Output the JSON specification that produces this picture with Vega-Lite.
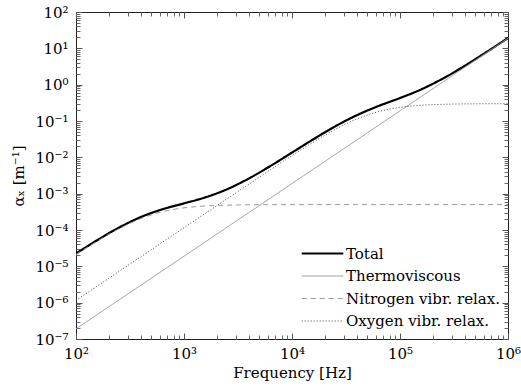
{
  "$schema": "https://vega.github.io/schema/vega-lite/v6.json",
  "width": 432,
  "height": 327,
  "autosize": "none",
  "padding": {"left": 76, "top": 12, "right": 13, "bottom": 48},
  "background": "white",
  "data": {
    "values": [
      {"f": 100, "s": "Total", "a": 2.244e-5},
      {"f": 158.5, "s": "Total", "a": 5.318e-5},
      {"f": 251.2, "s": "Total", "a": 1.172e-4},
      {"f": 398.1, "s": "Total", "a": 2.269e-4},
      {"f": 631, "s": "Total", "a": 3.715e-4},
      {"f": 1000, "s": "Total", "a": 5.413e-4},
      {"f": 1585, "s": "Total", "a": 7.958e-4},
      {"f": 2512, "s": "Total", "a": 1.329e-3},
      {"f": 3981, "s": "Total", "a": 2.612e-3},
      {"f": 6310, "s": "Total", "a": 5.774e-3},
      {"f": 10000, "s": "Total", "a": 1.351e-2},
      {"f": 15849, "s": "Total", "a": 3.170e-2},
      {"f": 25119, "s": "Total", "a": 7.11e-2},
      {"f": 39811, "s": "Total", "a": 0.1442},
      {"f": 63096, "s": "Total", "a": 0.2577},
      {"f": 100000, "s": "Total", "a": 0.4285},
      {"f": 158489, "s": "Total", "a": 0.7494},
      {"f": 251189, "s": "Total", "a": 1.4886},
      {"f": 398107, "s": "Total", "a": 3.306},
      {"f": 630957, "s": "Total", "a": 7.869},
      {"f": 1000000, "s": "Total", "a": 19.3},
      {"f": 100, "s": "Thermoviscous", "a": 1.9e-7},
      {"f": 158.5, "s": "Thermoviscous", "a": 4.77e-7},
      {"f": 251.2, "s": "Thermoviscous", "a": 1.2e-6},
      {"f": 398.1, "s": "Thermoviscous", "a": 3.01e-6},
      {"f": 631, "s": "Thermoviscous", "a": 7.57e-6},
      {"f": 1000, "s": "Thermoviscous", "a": 1.9e-5},
      {"f": 1585, "s": "Thermoviscous", "a": 4.77e-5},
      {"f": 2512, "s": "Thermoviscous", "a": 1.2e-4},
      {"f": 3981, "s": "Thermoviscous", "a": 3.01e-4},
      {"f": 6310, "s": "Thermoviscous", "a": 7.57e-4},
      {"f": 10000, "s": "Thermoviscous", "a": 1.9e-3},
      {"f": 15849, "s": "Thermoviscous", "a": 4.77e-3},
      {"f": 25119, "s": "Thermoviscous", "a": 1.2e-2},
      {"f": 39811, "s": "Thermoviscous", "a": 3.01e-2},
      {"f": 63096, "s": "Thermoviscous", "a": 7.57e-2},
      {"f": 100000, "s": "Thermoviscous", "a": 0.19},
      {"f": 158489, "s": "Thermoviscous", "a": 0.477},
      {"f": 251189, "s": "Thermoviscous", "a": 1.2},
      {"f": 398107, "s": "Thermoviscous", "a": 3.01},
      {"f": 630957, "s": "Thermoviscous", "a": 7.57},
      {"f": 1000000, "s": "Thermoviscous", "a": 19},
      {"f": 100, "s": "Nitrogen vibr. relax.", "a": 2.11e-5},
      {"f": 158.5, "s": "Nitrogen vibr. relax.", "a": 4.98e-5},
      {"f": 251.2, "s": "Nitrogen vibr. relax.", "a": 1.087e-4},
      {"f": 398.1, "s": "Nitrogen vibr. relax.", "a": 2.056e-4},
      {"f": 631, "s": "Nitrogen vibr. relax.", "a": 3.18e-4},
      {"f": 1000, "s": "Nitrogen vibr. relax.", "a": 4.07e-4},
      {"f": 1585, "s": "Nitrogen vibr. relax.", "a": 4.585e-4},
      {"f": 2512, "s": "Nitrogen vibr. relax.", "a": 4.826e-4},
      {"f": 3981, "s": "Nitrogen vibr. relax.", "a": 4.929e-4},
      {"f": 6310, "s": "Nitrogen vibr. relax.", "a": 4.972e-4},
      {"f": 10000, "s": "Nitrogen vibr. relax.", "a": 4.989e-4},
      {"f": 15849, "s": "Nitrogen vibr. relax.", "a": 4.996e-4},
      {"f": 25119, "s": "Nitrogen vibr. relax.", "a": 4.998e-4},
      {"f": 39811, "s": "Nitrogen vibr. relax.", "a": 5e-4},
      {"f": 63096, "s": "Nitrogen vibr. relax.", "a": 5e-4},
      {"f": 100000, "s": "Nitrogen vibr. relax.", "a": 5e-4},
      {"f": 158489, "s": "Nitrogen vibr. relax.", "a": 5e-4},
      {"f": 251189, "s": "Nitrogen vibr. relax.", "a": 5e-4},
      {"f": 398107, "s": "Nitrogen vibr. relax.", "a": 5e-4},
      {"f": 630957, "s": "Nitrogen vibr. relax.", "a": 5e-4},
      {"f": 1000000, "s": "Nitrogen vibr. relax.", "a": 5e-4},
      {"f": 100, "s": "Oxygen vibr. relax.", "a": 1.154e-6},
      {"f": 158.5, "s": "Oxygen vibr. relax.", "a": 2.9e-6},
      {"f": 251.2, "s": "Oxygen vibr. relax.", "a": 7.28e-6},
      {"f": 398.1, "s": "Oxygen vibr. relax.", "a": 1.829e-5},
      {"f": 631, "s": "Oxygen vibr. relax.", "a": 4.59e-5},
      {"f": 1000, "s": "Oxygen vibr. relax.", "a": 1.153e-4},
      {"f": 1585, "s": "Oxygen vibr. relax.", "a": 2.896e-4},
      {"f": 2512, "s": "Oxygen vibr. relax.", "a": 7.26e-4},
      {"f": 3981, "s": "Oxygen vibr. relax.", "a": 1.818e-3},
      {"f": 6310, "s": "Oxygen vibr. relax.", "a": 4.52e-3},
      {"f": 10000, "s": "Oxygen vibr. relax.", "a": 1.111e-2},
      {"f": 15849, "s": "Oxygen vibr. relax.", "a": 2.643e-2},
      {"f": 25119, "s": "Oxygen vibr. relax.", "a": 5.86e-2},
      {"f": 39811, "s": "Oxygen vibr. relax.", "a": 0.1136},
      {"f": 63096, "s": "Oxygen vibr. relax.", "a": 0.1815},
      {"f": 100000, "s": "Oxygen vibr. relax.", "a": 0.238},
      {"f": 158489, "s": "Oxygen vibr. relax.", "a": 0.2719},
      {"f": 251189, "s": "Oxygen vibr. relax.", "a": 0.2881},
      {"f": 398107, "s": "Oxygen vibr. relax.", "a": 0.2952},
      {"f": 630957, "s": "Oxygen vibr. relax.", "a": 0.2981},
      {"f": 1000000, "s": "Oxygen vibr. relax.", "a": 0.2992}
    ]
  },
  "resolve": {"axis": {"x": "independent", "y": "independent"}},
  "layer": [
    {
      "mark": {"type": "line", "interpolate": "monotone", "clip": true},
      "encoding": {
        "x": {
          "field": "f", "type": "quantitative",
          "scale": {"type": "log", "domain": [100, 1000000], "nice": false},
          "axis": {
            "orient": "bottom", "values": [100, 1000, 10000, 100000, 1000000],
            "offset": -6, "tickSize": 6, "tickColor": "#555555", "tickWidth": 1, "labelPadding": 7,
            "labelExpr": "'10' + (round(log(datum.value)/LN10) < 0 ? '⁻' : '') + ['⁰','¹','²','³','⁴','⁵','⁶','⁷','⁸','⁹'][abs(round(log(datum.value)/LN10))]",
            "title": "Frequency [Hz]", "titlePadding": 4
          }
        },
        "y": {
          "field": "a", "type": "quantitative",
          "scale": {"type": "log", "domain": [1e-7, 100], "nice": false},
          "axis": {
            "orient": "left", "values": [1e-7, 1e-6, 1e-5, 1e-4, 1e-3, 1e-2, 1e-1, 1, 10, 100],
            "offset": -6, "tickSize": 6, "tickColor": "#555555", "tickWidth": 1, "labelPadding": 8,
            "labelExpr": "'10' + (round(log(datum.value)/LN10) < 0 ? '⁻' : '') + ['⁰','¹','²','³','⁴','⁵','⁶','⁷','⁸','⁹'][abs(round(log(datum.value)/LN10))]",
            "title": "αₓ [m⁻¹]", "titlePadding": 8
          }
        },
        "color": {
          "field": "s", "type": "nominal",
          "scale": {"domain": ["Total", "Thermoviscous", "Nitrogen vibr. relax.", "Oxygen vibr. relax."], "range": ["#000000", "#999999", "#999999", "#444444"]},
          "legend": {"title": null}
        },
        "strokeDash": {
          "field": "s", "type": "nominal",
          "scale": {"domain": ["Total", "Thermoviscous", "Nitrogen vibr. relax.", "Oxygen vibr. relax."], "range": [[1, 0], [1, 0], [5, 4], [1, 2]]},
          "legend": {"title": null}
        },
        "strokeWidth": {
          "field": "s", "type": "nominal",
          "scale": {"type": "ordinal", "domain": ["Total", "Thermoviscous", "Nitrogen vibr. relax.", "Oxygen vibr. relax."], "range": [2.2, 1, 1, 1]},
          "legend": {"title": null}
        }
      }
    },
    {
      "mark": {"type": "line", "opacity": 0},
      "encoding": {
        "x": {
          "field": "f", "type": "quantitative",
          "scale": {"type": "log", "domain": [100, 1000000], "nice": false},
          "axis": {"orient": "top", "values": [100, 1000, 10000, 100000, 1000000], "offset": -6, "tickSize": 6, "tickColor": "#555555", "tickWidth": 1, "labels": false, "title": null}
        },
        "y": {
          "field": "a", "type": "quantitative",
          "scale": {"type": "log", "domain": [1e-7, 100], "nice": false},
          "axis": {"orient": "right", "values": [1e-7, 1e-6, 1e-5, 1e-4, 1e-3, 1e-2, 1e-1, 1, 10, 100], "offset": -6, "tickSize": 6, "tickColor": "#555555", "tickWidth": 1, "labels": false, "title": null}
        }
      }
    },
    {
      "mark": {"type": "line", "opacity": 0},
      "encoding": {
        "x": {
          "field": "f", "type": "quantitative",
          "scale": {"type": "log", "domain": [100, 1000000], "nice": false},
          "axis": {"orient": "bottom", "values": [200, 300, 400, 500, 600, 700, 800, 900, 2000, 3000, 4000, 5000, 6000, 7000, 8000, 9000, 20000, 30000, 40000, 50000, 60000, 70000, 80000, 90000, 200000, 300000, 400000, 500000, 600000, 700000, 800000, 900000], "offset": -4, "tickSize": 4, "tickColor": "#666666", "tickWidth": 1, "labels": false, "title": null}
        },
        "y": {
          "field": "a", "type": "quantitative",
          "scale": {"type": "log", "domain": [1e-7, 100], "nice": false},
          "axis": {"orient": "left", "values": [2e-7, 3e-7, 4e-7, 5e-7, 6e-7, 7e-7, 8e-7, 9e-7, 2e-6, 3e-6, 4e-6, 5e-6, 6e-6, 7e-6, 8e-6, 9e-6, 2e-5, 3e-5, 4e-5, 5e-5, 6e-5, 7e-5, 8e-5, 9e-5, 2e-4, 3e-4, 4e-4, 5e-4, 6e-4, 7e-4, 8e-4, 9e-4, 0.002, 0.003, 0.004, 0.005, 0.006, 0.007, 0.008, 0.009, 0.02, 0.03, 0.04, 0.05, 0.06, 0.07, 0.08, 0.09, 0.2, 0.3, 0.4, 0.5, 0.6, 0.7, 0.8, 0.9, 2, 3, 4, 5, 6, 7, 8, 9, 20, 30, 40, 50, 60, 70, 80, 90], "offset": -4, "tickSize": 4, "tickColor": "#666666", "tickWidth": 1, "labels": false, "title": null}
        }
      }
    },
    {
      "mark": {"type": "line", "opacity": 0},
      "encoding": {
        "x": {
          "field": "f", "type": "quantitative",
          "scale": {"type": "log", "domain": [100, 1000000], "nice": false},
          "axis": {"orient": "top", "values": [200, 300, 400, 500, 600, 700, 800, 900, 2000, 3000, 4000, 5000, 6000, 7000, 8000, 9000, 20000, 30000, 40000, 50000, 60000, 70000, 80000, 90000, 200000, 300000, 400000, 500000, 600000, 700000, 800000, 900000], "offset": -4, "tickSize": 4, "tickColor": "#666666", "tickWidth": 1, "labels": false, "title": null}
        },
        "y": {
          "field": "a", "type": "quantitative",
          "scale": {"type": "log", "domain": [1e-7, 100], "nice": false},
          "axis": {"orient": "right", "values": [2e-7, 3e-7, 4e-7, 5e-7, 6e-7, 7e-7, 8e-7, 9e-7, 2e-6, 3e-6, 4e-6, 5e-6, 6e-6, 7e-6, 8e-6, 9e-6, 2e-5, 3e-5, 4e-5, 5e-5, 6e-5, 7e-5, 8e-5, 9e-5, 2e-4, 3e-4, 4e-4, 5e-4, 6e-4, 7e-4, 8e-4, 9e-4, 0.002, 0.003, 0.004, 0.005, 0.006, 0.007, 0.008, 0.009, 0.02, 0.03, 0.04, 0.05, 0.06, 0.07, 0.08, 0.09, 0.2, 0.3, 0.4, 0.5, 0.6, 0.7, 0.8, 0.9, 2, 3, 4, 5, 6, 7, 8, 9, 20, 30, 40, 50, 60, 70, 80, 90], "offset": -4, "tickSize": 4, "tickColor": "#666666", "tickWidth": 1, "labels": false, "title": null}
        }
      }
    }
  ],
  "config": {
    "font": "DejaVu Serif",
    "view": {"stroke": "#222222", "strokeWidth": 1},
    "axis": {
      "domain": false, "grid": false,
      "labelFont": "DejaVu Serif", "labelFontSize": 15, "labelColor": "#000000",
      "labelFlush": false, "labelOverlap": false, "labelBound": false,
      "titleFont": "DejaVu Serif", "titleFontSize": 15, "titleFontWeight": "normal", "titleColor": "#000000"
    },
    "legend": {
      "orient": "none", "legendX": 237, "legendY": 232,
      "symbolType": "M-2.6,0H2.6", "symbolSize": 256, "symbolStrokeWidth": 1,
      "labelFont": "DejaVu Serif", "labelFontSize": 15, "labelColor": "#000000",
      "labelOffset": 14, "rowPadding": 5.5, "padding": 0, "labelLimit": 300
    }
  }
}
